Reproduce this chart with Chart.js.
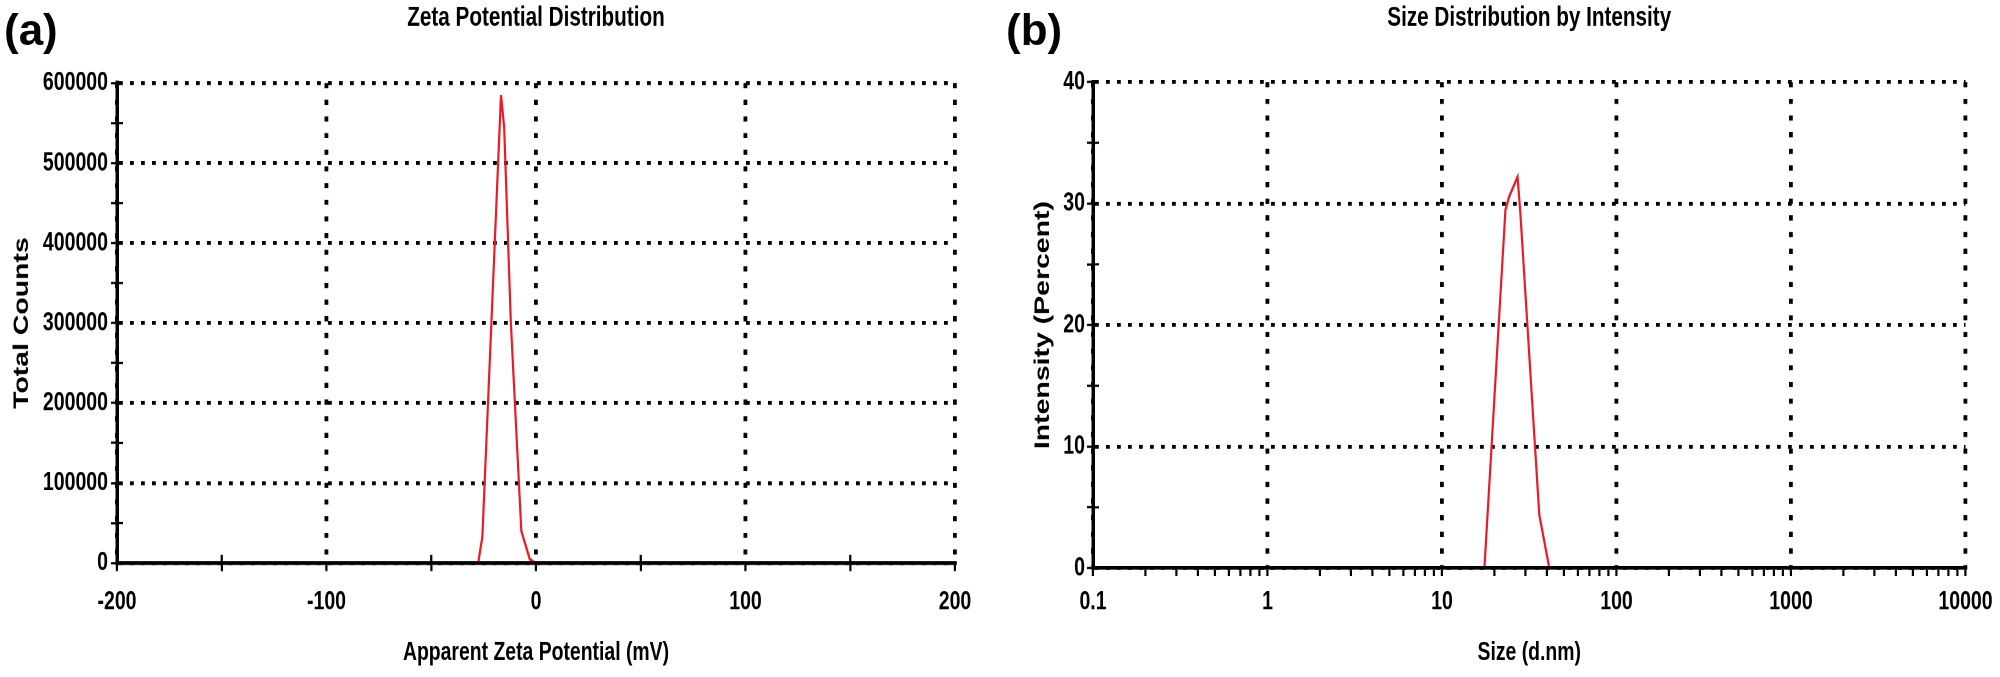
<!DOCTYPE html>
<html>
<head>
<meta charset="utf-8">
<script src="https://cdn.jsdelivr.net/npm/chart.js@4"></script>
<style>
  html, body { margin: 0; padding: 0; background: #ffffff; }
  body { width: 2000px; height: 677px; position: relative; overflow: hidden; }
  .wrap { position: absolute; top: 0; width: 1000px; height: 677px; }
  .wrap canvas { display: block; }
  .panel { position: absolute; font-family: "Liberation Sans", Arial, sans-serif; font-weight: bold; font-size: 44px; line-height: 44px; color: #000; }
</style>
</head>
<body>
<div class="wrap" style="left:0"><canvas id="chartA" width="1000" height="500" style="width:1000px;height:677px"></canvas></div>
<div class="wrap" style="left:1000px"><canvas id="chartB" width="1000" height="500" style="width:1000px;height:677px"></canvas></div>
<div class="panel" style="left:4px; top:8px">(a)</div>
<div class="panel" style="left:1006px; top:8px">(b)</div>
<script>
// ---------- data: (a) zeta potential ----------
const zetaX      = [-200, -27.6, -25.6, -17.2, -16.7, -15.2, -12.0, -7.0, -3.0, -0.5, 200];
const zetaCounts = [0,     0,     33000, 555000, 585000, 545000, 300000, 40000, 5000, 0, 0];
const zetaTickValues = [-200, -100, 0, 100, 200];
const zetaTickLabels = ['-200', '-100', '0', '100', '200'];
const countTickValues = [0, 100000, 200000, 300000, 400000, 500000, 600000];
const countTickLabels = ['0', '100000', '200000', '300000', '400000', '500000', '600000'];

// ---------- data: (b) size distribution ----------
const sizeX      = [0.4, 17.5, 23.1, 24.3, 27.1, 28.1, 36.1, 41.2, 10000];
const intensity  = [0,   0,    29.5, 30.6, 32.2, 29.3, 4.4,  0,    0];
const sizeDecades = [0.1, 1, 10, 100, 1000, 10000];
const sizeTickLabels = ['0.1', '1', '10', '100', '1000', '10000'];
const intTickValues = [0, 10, 20, 30, 40];
const intTickLabels = ['0', '10', '20', '30', '40'];

// The canvases are drawn 500 px tall and shown 677 px tall (the original figure is stretched vertically).
const RED = 'rgb(232,28,36)';
const FAM = '"Liberation Sans", Arial, sans-serif';
const TICK_FONT = { family: FAM, size: 19.5, weight: 'bold' };
const TITLE_FONT = { family: FAM, size: 20.7, weight: 'bold' };
const XTITLE_FONT = { family: FAM, size: 19.4, weight: 'bold' };
const YTITLE_FONT = { family: FAM, size: 21, weight: 'bold' };

function labelFor(values, labels, v) {
  for (let i = 0; i < values.length; i++) {
    if (Math.abs(values[i] - v) < 1e-9 * Math.max(1, Math.abs(v))) return labels[i];
  }
  return '';
}
function isIn(values, v) { return labelFor(values, values.map(() => 'y'), v) !== ''; }

function axisStyle(majorValues, horizontal) {
  return {
    grid: {
      color: (c) => (c.tick && isIn(majorValues, c.tick.value)) ? '#000' : 'rgba(0,0,0,0)',
      lineWidth: horizontal ? 3.8 : 2.9,
      drawTicks: true,
      tickLength: 6,
      tickColor: '#000',
      tickWidth: horizontal ? 2.2 : 1.7
    },
    border: { display: true, color: '#000', width: horizontal ? 2.7 : 3.5, dash: horizontal ? [3.8, 8.5] : [3.8, 7.2], z: 1 }
  };
}

// inward stubs for the minor tick marks that cross the axis line
const innerTicks = {
  id: 'innerTicks',
  afterDraw(chart, args, opts) {
    const ctx = chart.ctx, area = chart.chartArea;
    ctx.save();
    ctx.strokeStyle = '#000';
    (opts.axes || []).forEach(a => {
      const s = chart.scales[a.id];
      s.ticks.forEach(t => {
        if (isIn(a.major, t.value)) return;
        const p = s.getPixelForValue(t.value);
        ctx.beginPath();
        if (s.isHorizontal()) { ctx.lineWidth = 2.2; ctx.moveTo(p, area.bottom); ctx.lineTo(p, area.bottom - a.len); }
        else { ctx.lineWidth = 1.7; ctx.moveTo(area.left, p); ctx.lineTo(area.left + a.len, p); }
        ctx.stroke();
      });
    });
    ctx.restore();
  }
};

Chart.defaults.font.family = FAM;
Chart.defaults.color = '#000';

// ---------- chart (a) ----------
const sA_x = axisStyle(zetaTickValues, true);
const sA_y = axisStyle(countTickValues, false);
new Chart(document.getElementById('chartA'), {
  type: 'scatter',
  data: {
    datasets: [{
      data: zetaX.map((x, i) => ({ x: x, y: zetaCounts[i] })),
      showLine: true,
      borderColor: RED,
      borderWidth: 2.2,
      pointRadius: 0,
      tension: 0
    }]
  },
  plugins: [innerTicks],
  options: {
    responsive: false,
    devicePixelRatio: 2,
    animation: false,
    layout: { padding: { left: 0, right: 45, top: 0, bottom: 0 } },
    plugins: {
      legend: { display: false },
      tooltip: { enabled: false },
      innerTicks: { axes: [ { id: 'x', major: zetaTickValues, len: 6 }, { id: 'y', major: countTickValues, len: 6 } ] },
      title: {
        display: true, fullSize: false,
        text: 'Zeta Potential Distribution',
        font: TITLE_FONT, color: '#000',
        padding: { top: 0.9, bottom: 35.6 }
      }
    },
    scales: {
      x: {
        type: 'linear', min: -200, max: 200,
        ticks: {
          stepSize: 50, autoSkip: false, maxRotation: 0, font: TICK_FONT, color: '#000', padding: 11.1,
          callback: (v) => labelFor(zetaTickValues, zetaTickLabels, v)
        },
        grid: sA_x.grid, border: sA_x.border,
        title: { display: true, text: 'Apparent Zeta Potential (mV)', font: XTITLE_FONT, color: '#000', padding: { top: 0, bottom: 6.1 } },
        afterFit: (s) => { s.height = 84.2; }
      },
      y: {
        type: 'linear', min: 0, max: 600000,
        ticks: {
          stepSize: 50000, autoSkip: false, font: TICK_FONT, color: '#000', padding: 3,
          callback: (v) => labelFor(countTickValues, countTickLabels, v)
        },
        grid: sA_y.grid, border: sA_y.border,
        title: { display: true, text: 'Total Counts', font: YTITLE_FONT, color: '#000', padding: { top: 9.4, bottom: 0 } },
        afterFit: (s) => { s.width = 117; }
      }
    }
  }
});

// ---------- chart (b) ----------
const sizeAllTicks = [];
for (let d = 0; d < sizeDecades.length - 1; d++) {
  for (let m = 1; m <= 9; m++) sizeAllTicks.push(+(sizeDecades[d] * m).toPrecision(6));
}
sizeAllTicks.push(sizeDecades[sizeDecades.length - 1]);

const sB_x = axisStyle(sizeDecades, true);
const sB_y = axisStyle(intTickValues, false);
new Chart(document.getElementById('chartB'), {
  type: 'scatter',
  data: {
    datasets: [{
      data: sizeX.map((x, i) => ({ x: x, y: intensity[i] })),
      showLine: true,
      borderColor: RED,
      borderWidth: 2.2,
      pointRadius: 0,
      tension: 0
    }]
  },
  plugins: [innerTicks],
  options: {
    responsive: false,
    devicePixelRatio: 2,
    animation: false,
    layout: { padding: { left: 0, right: 33, top: 0, bottom: 0 } },
    plugins: {
      legend: { display: false },
      tooltip: { enabled: false },
      innerTicks: { axes: [ { id: 'y', major: intTickValues, len: 6 } ] },
      title: {
        display: true, fullSize: false,
        text: 'Size Distribution by Intensity',
        font: TITLE_FONT, color: '#000',
        padding: { top: 0.9, bottom: 34.9 }
      }
    },
    scales: {
      x: {
        type: 'logarithmic', min: 0.1, max: 10000,
        afterBuildTicks: (s) => { s.ticks = sizeAllTicks.map(v => ({ value: v, major: isIn(sizeDecades, v) })); },
        ticks: {
          autoSkip: false, maxRotation: 0, font: TICK_FONT, color: '#000', padding: 7.4,
          major: { enabled: false },
          callback: (v) => labelFor(sizeDecades, sizeTickLabels, v)
        },
        grid: sB_x.grid, border: sB_x.border,
        title: { display: true, text: 'Size (d.nm)', font: XTITLE_FONT, color: '#000', padding: { top: 0, bottom: 6.1 } },
        afterFit: (s) => { s.height = 80.5; }
      },
      y: {
        type: 'linear', min: 0, max: 40,
        ticks: {
          stepSize: 5, autoSkip: false, font: TICK_FONT, color: '#000', padding: 2,
          callback: (v) => labelFor(intTickValues, intTickLabels, v)
        },
        grid: sB_y.grid, border: sB_y.border,
        title: { display: true, text: 'Intensity (Percent)', font: YTITLE_FONT, color: '#000', padding: { top: 30.4, bottom: 0 } },
        afterFit: (s) => { s.width = 93; }
      }
    }
  }
});
</script>
</body>
</html>
